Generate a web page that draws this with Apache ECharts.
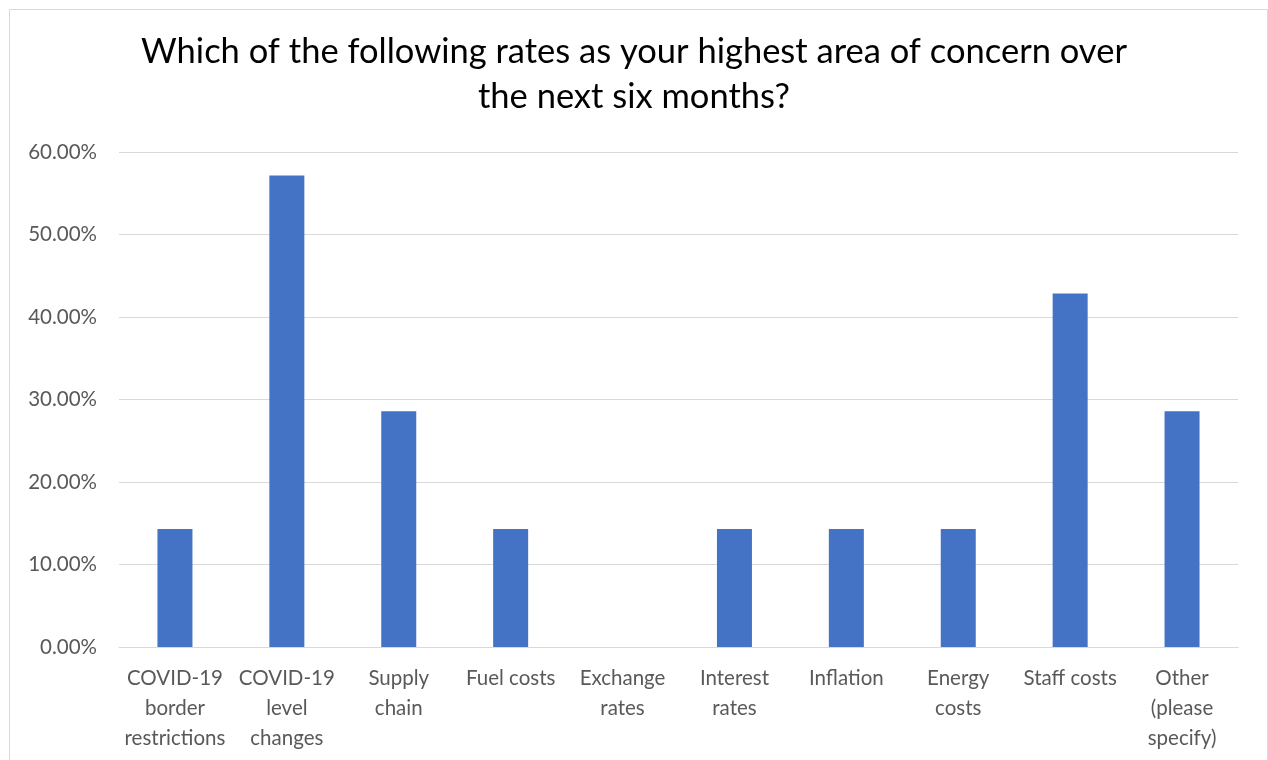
<!DOCTYPE html>
<html>
<head>
<meta charset="utf-8">
<script src="https://cdn.jsdelivr.net/npm/echarts@6/dist/echarts.min.js"></script>
<style>
html,body{margin:0;padding:0;background:#fff;}
#chart{width:1268px;height:760px;}
</style>
</head>
<body>
<div id="chart"></div>
<script>
const titleText = "Which of the following rates as your highest area of concern over\nthe next six months?";
const categories = ["COVID-19\nborder\nrestrictions", "COVID-19\nlevel\nchanges", "Supply\nchain", "Fuel costs", "Exchange\nrates", "Interest\nrates", "Inflation", "Energy\ncosts", "Staff costs", "Other\n(please\nspecify)"];
const values = [14.29, 57.14, 28.57, 14.29, 0, 14.29, 14.29, 14.29, 42.86, 28.57];
const yMin = 0, yMax = 60, yStep = 10;

const font = "Lato, 'Open Sans', sans-serif";
const chart = echarts.init(document.getElementById('chart'));
chart.setOption({
  animation: false,
  backgroundColor: '#fff',
  graphic: [{
    type: 'rect', left: 7, top: 7,
    shape: {width: 1258, height: 760},
    style: {fill: 'none', stroke: '#d9d9d9', lineWidth: 1}
  }],
  title: {
    text: titleText, left: 'center', top: 24,
    textStyle: {fontFamily: font, fontSize: 34.5, fontWeight: 'normal', color: '#000', lineHeight: 45}
  },
  grid: {left: 119, right: 30, top: 152, bottom: 113},
  xAxis: {
    type: 'category', data: categories,
    axisLine: {lineStyle: {color: '#d9d9d9', width: 1}},
    axisTick: {show: false},
    axisLabel: {fontFamily: font, fontSize: 20.5, color: '#595959', lineHeight: 30, margin: 16, interval: 0}
  },
  yAxis: {
    type: 'value', min: yMin, max: yMax, interval: yStep,
    axisLine: {show: false}, axisTick: {show: false},
    splitLine: {lineStyle: {color: '#d9d9d9', width: 1}},
    axisLabel: {fontFamily: font, fontSize: 20.5, color: '#595959', margin: 22, formatter: v => v.toFixed(2) + '%'}
  },
  series: [{
    type: 'bar', data: values, barWidth: 35,
    itemStyle: {color: '#4472C4'}
  }]
});
</script>
</body>
</html>
